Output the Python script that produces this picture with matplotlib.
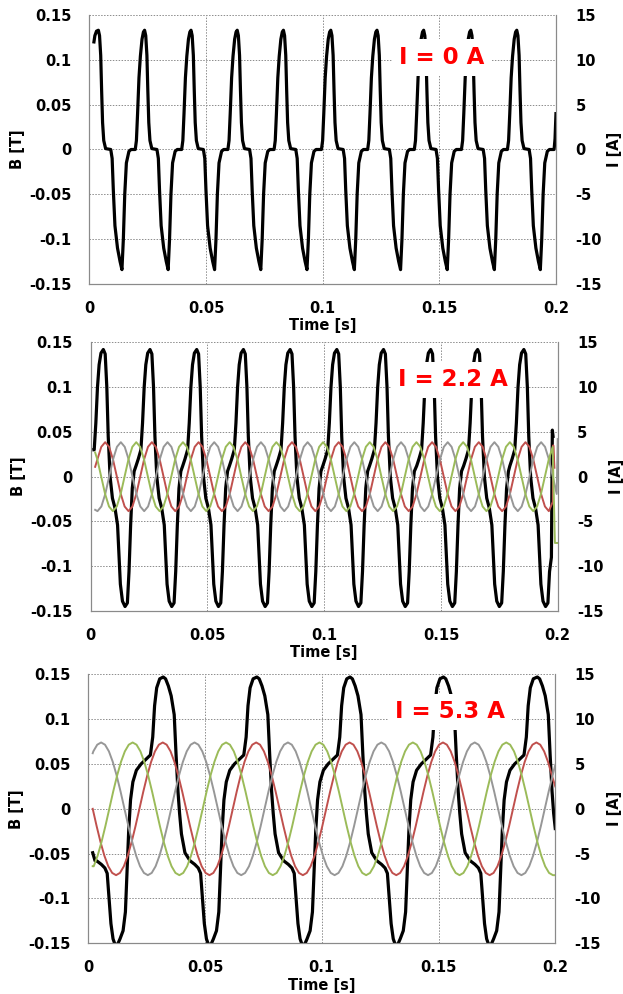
import numpy as np
import matplotlib
matplotlib.use("Agg")
import matplotlib.pyplot as plt

plt.rcParams["font.family"] = "DejaVu Sans"
plt.rcParams["axes.unicode_minus"] = False

# ---- tick labels / titles ----
TIME_TICKS = [0, 0.05, 0.1, 0.15, 0.2]
TIME_LABELS = ["0", "0.05", "0.1", "0.15", "0.2"]
B_TICKS = [-0.15, -0.1, -0.05, 0, 0.05, 0.1, 0.15]
B_LABELS = ["-0.15", "-0.1", "-0.05", "0", "0.05", "0.1", "0.15"]
I_TICKS = [-15, -10, -5, 0, 5, 10, 15]
I_LABELS = ["-15", "-10", "-5", "0", "5", "10", "15"]
PANEL_TITLES = ["I = 0 A", "I = 2.2 A", "I = 5.3 A"]

# ---- panel 1 (I = 0 A): one B cycle read around a positive peak (ms, T) ----
B1_CYC_MS = [-4.0, -3.5, -3.0, -2.4, -1.8, -1.1, -0.5, 0.0, 0.5, 1.0, 1.4, 1.8, 2.3, 3.1,
             5.3, 5.9, 6.4, 7.1, 8.2, 9.3, 10.1, 10.7, 11.3, 12.0, 13.1, 14.0]
B1_CYC_T = [0.000, 0.010, 0.040, 0.080, 0.104, 0.123, 0.131, 0.133, 0.127, 0.105, 0.065, 0.030,
            0.010, 0.001, 0.000, -0.010, -0.045, -0.085, -0.110, -0.125, -0.134, -0.100, -0.050,
            -0.015, -0.002, 0.000]
B1_PEAKS_MS = [3.9, 23.7, 43.6, 63.4, 83.2, 103.5, 123.3, 143.3, 163.5, 183.2]
B1_HEAD = [(2.0, 0.120), (2.4, 0.127), (3.1, 0.132)]
B1_TAIL = [(199.2, 0.000), (199.6, 0.012), (200.0, 0.040)]

# ---- panel 2 (I = 2.2 A) ----
B2_CYC_MS = [-6.0, -5.0, -3.9, -3.2, -2.5, -1.8, -1.0, 0.0, 0.8, 1.5, 2.1, 2.9,
             3.9, 5.0, 6.1, 6.7, 7.3, 8.2, 9.3, 10.3, 11.0, 11.7, 12.4, 13.2]
B2_CYC_T = [0.012, 0.020, 0.030, 0.060, 0.100, 0.125, 0.138, 0.142, 0.137, 0.100, 0.045, 0.000,
            -0.024, -0.035, -0.054, -0.087, -0.120, -0.139, -0.145, -0.141, -0.106, -0.054, -0.013, 0.006]
B2_PEAKS_MS = [5.4, 25.4, 45.4, 65.4, 85.4, 105.4, 125.4, 145.6, 165.7, 185.5]
B2_HEAD = [(1.4, 0.030)]
B2_TAIL = [(197.3, -0.090), (197.7, 0.052), (198.0, 0.045)]

I2_PERIOD_MS = 20.0
I2_WAVE = [3.85, 3.33, 1.93, 0.0, -1.93, -3.33, -3.85, -3.33, -1.93, 0.0, 1.93, 3.33]
I2_RED_PEAKS = [-13.8, 6.2, 26.2, 46.2, 66.2, 86.2, 106.2, 126.2, 146.2, 166.2, 186.2]
I2_GRAY_PEAKS = [-7.1, 12.9, 32.9, 52.9, 72.9, 92.9, 112.9, 132.9, 152.9, 172.9, 192.9]
I2_GREEN_PEAKS = [-0.5, 19.5, 39.5, 59.5, 79.5, 99.5, 119.5, 139.5, 159.5, 179.5, 199.5]
I2_RED_ENDS = [(1.9, 1.1), (197.9, -2.8), (198.1, 3.5), (198.6, 1.0)]
I2_GRAY_ENDS = [(1.9, -3.7), (200.0, 4.2)]
I2_GREEN_ENDS = [(1.9, 2.7), (198.8, -7.4), (200.0, -7.4)]

# ---- panel 3 (I = 5.3 A) ----
B3_CYC_MS = [0.0, 1.0, 2.2, 3.4, 4.7, 5.5, 6.3, 7.0, 7.8, 9.3, 11.5, 13.5, 15.0, 16.0, 16.8, 17.6,
             18.5, 19.3, 20.5, 21.5, 22.8, 23.8, 24.5, 25.2, 26.0, 27.0, 28.5, 30.5, 32.5, 34.5,
             35.5, 36.3, 37.2, 38.5]
B3_CYC_T = [0.147, 0.145, 0.137, 0.126, 0.105, 0.060, 0.020, -0.005, -0.028, -0.049, -0.058, -0.062,
            -0.066, -0.072, -0.100, -0.128, -0.145, -0.151, -0.151, -0.145, -0.136, -0.115, -0.070,
            -0.025, 0.010, 0.030, 0.043, 0.050, 0.055, 0.060, 0.080, 0.115, 0.135, 0.145]
B3_PEAKS_MS = [-7.9, 32.1, 72.2, 112.1, 152.1, 192.3]
B3_HEAD = [(1.9, -0.049), (2.9, -0.058)]
B3_TAIL = [(200.0, -0.022)]

I3_PERIOD_MS = 40.0
I3_WAVE = [7.40, 7.15, 6.41, 5.23, 3.70, 1.92, 0.0, -1.92, -3.70, -5.23, -6.41, -7.15,
           -7.40, -7.15, -6.41, -5.23, -3.70, -1.92, 0.0, 1.92, 3.70, 5.23, 6.41, 7.15]
I3_RED_PEAKS = [-8.1, 31.9, 71.9, 111.9, 151.9, 191.9]
I3_GRAY_PEAKS = [-34.5, 5.5, 45.5, 85.5, 125.5, 165.5, 205.5]
I3_GREEN_PEAKS = [-21.0, 19.0, 59.0, 99.0, 139.0, 179.0, 219.0]
I3_RED_ENDS = [(1.9, 0.0), (200.0, 2.5)]
I3_GRAY_ENDS = [(1.9, 6.2), (200.0, 4.9)]
I3_GREEN_ENDS = [(1.9, -6.4), (200.0, -7.4)]

RED = "#C0504D"
GREEN = "#9BBB59"
GRAY = "#979797"


def place_cycles(peaks_ms, cyc_ms, cyc_val, t_from, t_to, head=(), tail=()):
    """Put the read cycle at each read peak time, keep the part inside [t_from, t_to]."""
    t = np.concatenate([p + np.asarray(cyc_ms, float) for p in peaks_ms])
    v = np.tile(np.asarray(cyc_val, float), len(peaks_ms))
    keep = (t >= t_from) & (t <= t_to)
    t = np.concatenate([[h[0] for h in head], t[keep], [q[0] for q in tail]])
    v = np.concatenate([[h[1] for h in head], v[keep], [q[1] for q in tail]])
    return t / 1000.0, v


def current_wave(peaks_ms, wave, period_ms, ends):
    # ends: first entry = start reading, the rest = readings where the trace leaves the sine
    steps = np.arange(len(wave)) * period_ms / len(wave)
    return place_cycles(peaks_ms, steps, wave, ends[0][0] + 0.05, ends[1][0] - 0.05,
                        head=ends[:1], tail=ends[1:])


def style_axes(ax, ax2):
    ax.set_xlim(0, 0.2)
    ax.set_ylim(-0.15, 0.15)
    ax2.set_ylim(-15, 15)
    ax.set_xticks(TIME_TICKS)
    ax.set_xticklabels(TIME_LABELS)
    ax.set_yticks(B_TICKS)
    ax.set_yticklabels(B_LABELS)
    ax2.set_yticks(I_TICKS)
    ax2.set_yticklabels(I_LABELS)
    for a in (ax, ax2):
        a.tick_params(length=0, labelsize=10.5)
        for lab in a.get_xticklabels() + a.get_yticklabels():
            lab.set_fontweight("bold")
        for side in ("top", "left", "right", "bottom"):
            a.spines[side].set_color("#8a8a8a")
            a.spines[side].set_linewidth(0.8)
        a.spines["top"].set_visible(False)
    ax.tick_params(axis="y", pad=13)
    ax.tick_params(axis="x", pad=12)
    ax2.tick_params(axis="y", pad=14)
    ax.grid(True, color="#8c8c8c", linestyle=(0, (1.5, 1.5)), linewidth=0.7)
    ax.set_xlabel("Time [s]", fontsize=10.5, fontweight="bold", labelpad=2)
    ax.set_ylabel("B [T]", fontsize=10.5, fontweight="bold", labelpad=3)
    ax2.set_ylabel("I [A]", fontsize=10.5, fontweight="bold", labelpad=4)


fig = plt.figure(figsize=(6.23, 9.94), dpi=100)

rects = [(0.1433, 0.7143, 0.7491, 0.2706),
         (0.1456, 0.3853, 0.7496, 0.2703),
         (0.1417, 0.0510, 0.7496, 0.2706)]
title_pos = [(0.151, 10.3), (0.155, 10.8), (0.155, 10.8)]

b_series = [
    place_cycles(B1_PEAKS_MS, B1_CYC_MS, B1_CYC_T, 3.5, 199.0, B1_HEAD, B1_TAIL),
    place_cycles(B2_PEAKS_MS, B2_CYC_MS, B2_CYC_T, 1.5, 197.0, B2_HEAD, B2_TAIL),
    place_cycles(B3_PEAKS_MS, B3_CYC_MS, B3_CYC_T, 3.0, 199.9, B3_HEAD, B3_TAIL),
]
i_series = [
    [],
    [(current_wave(I2_RED_PEAKS, I2_WAVE, I2_PERIOD_MS, I2_RED_ENDS), RED),
     (current_wave(I2_GRAY_PEAKS, I2_WAVE, I2_PERIOD_MS, I2_GRAY_ENDS), GRAY),
     (current_wave(I2_GREEN_PEAKS, I2_WAVE, I2_PERIOD_MS, I2_GREEN_ENDS), GREEN)],
    [(current_wave(I3_RED_PEAKS, I3_WAVE, I3_PERIOD_MS, I3_RED_ENDS), RED),
     (current_wave(I3_GRAY_PEAKS, I3_WAVE, I3_PERIOD_MS, I3_GRAY_ENDS), GRAY),
     (current_wave(I3_GREEN_PEAKS, I3_WAVE, I3_PERIOD_MS, I3_GREEN_ENDS), GREEN)],
]

for k in range(3):
    ax = fig.add_axes(rects[k])
    ax2 = ax.twinx()
    ax.set_zorder(1)
    ax2.set_zorder(2)
    style_axes(ax, ax2)

    t, b = b_series[k]
    ax.plot(t, b, color="black", linewidth=2.3, solid_joinstyle="round")
    for (ti, iv), col in i_series[k]:
        ax2.plot(ti, iv, color=col, linewidth=1.4)

    # panel caption sits on a white box above every curve
    tx, ty = title_pos[k]
    fig.text(tx, ty, PANEL_TITLES[k], transform=ax2.transData, ha="center", va="center",
             color="#FF0000", fontsize=16.5, fontweight="bold", zorder=10,
             bbox=dict(boxstyle="square,pad=0.3", facecolor="white", edgecolor="none"))

fig.savefig("out.png", dpi=100)
